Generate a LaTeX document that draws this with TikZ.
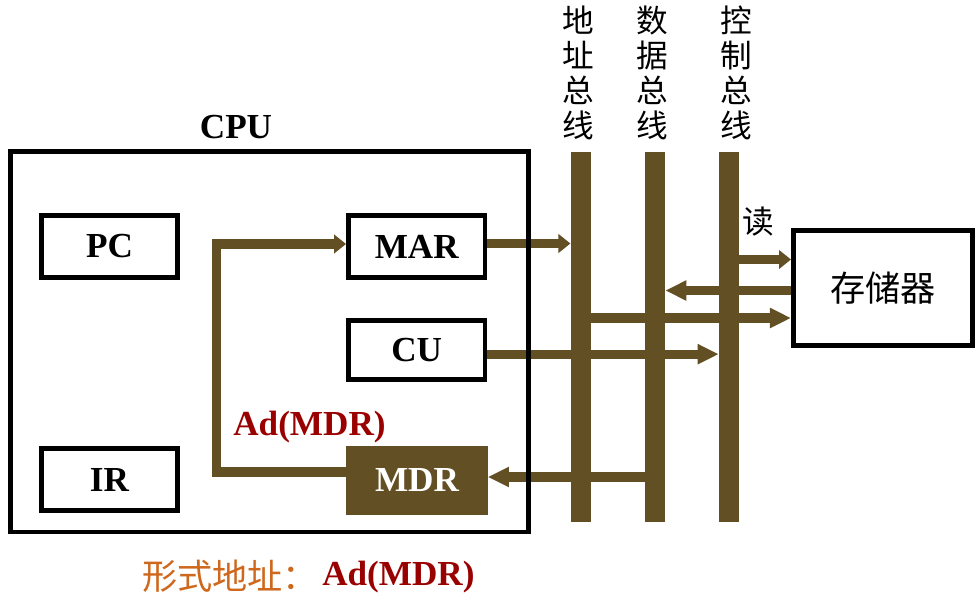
\documentclass[tikz,border=0pt]{standalone}
\usepackage{fontspec}
\setmainfont{Liberation Serif}
\newfontfamily\cjk{Noto Sans CJK SC}
\usetikzlibrary{arrows.meta,backgrounds}

\definecolor{busbrown}{RGB}{99,79,36}
\definecolor{addrred}{RGB}{153,0,0}
\definecolor{hintorange}{RGB}{206,104,28}

\tikzset{
  reg/.style={draw, line width=3.5pt, inner sep=0pt, minimum width=3.41cm,
    minimum height=1.55cm, font=\fontsize{25}{30}\selectfont\bfseries},
  bus/.style={fill=busbrown, inner sep=0pt, minimum width=0.5cm, minimum height=9.25cm},
  buslabel/.style={align=center, inner sep=0pt, font=\cjk\fontsize{22.5}{24.9}\selectfont},
  flow/.style={draw=busbrown, line width=6.6pt, line join=miter,
    -{Triangle[length=15pt,width=13.5pt]}},
  shortflow/.style={flow, -{Triangle[length=8.5pt,width=13pt]}},
  latin/.style={inner sep=0pt, font=\fontsize{25}{30}\selectfont\bfseries}
}

\begin{document}
\begin{tikzpicture}[x=0.025cm, y=-0.025cm]
  \useasboundingbox (0,0) rectangle (980,599);

  % CPU and its registers
  \node[draw, line width=3.5pt, minimum width=12.95cm, minimum height=9.51cm] (cpu) at (269.5,341.75) {};
  \node[latin] (cputitle) at (236,127) {CPU};
  \node[reg] (pc) at (109.5,246.5) {PC};
  \node[reg] (mar) at (416.75,246.5) {MAR};
  \node[reg, minimum height=1.47cm] (cu) at (416.75,349.75) {CU};
  \node[reg, minimum height=1.54cm] (ir) at (109.5,479.75) {IR};
  \node[latin, fill=busbrown, text=white, minimum width=3.53cm, minimum height=1.72cm] (mdr) at (417,480.5) {MDR};
  \node[latin, text=addrred] (adlabel) at (309.5,427) {Ad(MDR)};

  % buses
  \node[bus] (abus) at (580.7,337) {};
  \node[bus] (dbus) at (655,337) {};
  \node[bus] (cbus) at (729,337) {};
  \node[buslabel] (alabel) at (578,73) {地\\址\\总\\线};
  \node[buslabel] (dlabel) at (652,73) {数\\据\\总\\线};
  \node[buslabel] (clabel) at (736,73) {控\\制\\总\\线};

  % memory
  \node[draw, line width=3.5pt, minimum width=4.475cm, minimum height=2.875cm,
    font=\cjk\fontsize{25}{30}\selectfont] (mem) at (883,288) {存储器};
  \node[inner sep=0pt, font=\cjk\fontsize{22.5}{26}\selectfont] (rd) at (758,222) {读};

  % bottom note
  \node[anchor=west, inner sep=0pt, text=hintorange, font=\cjk\fontsize{25}{30}\selectfont] (note) at (142,576) {形式地址：};
  \node[latin, anchor=west, text=addrred] (noteaddr) at (322,577) {Ad(MDR)};

  \begin{scope}[on background layer]
    \draw[shortflow] ([yshift=0.075cm]mar.east) -- ([yshift=0.075cm]mar.east -| abus.west);
    \draw[flow] ([yshift=-0.11cm]cu.east) -- ([yshift=-0.11cm]cu.east -| cbus.west);
    \draw[flow] (dbus.west |- 0,477) -- (mdr.east |- 0,477);
    \draw[shortflow] (mdr.west |- 0,472) -- (216.5,472) -- (216.5,244) -- (mar.west |- 0,244);
    \draw[shortflow] (cbus.east |- 0,259.5) -- (mem.west |- 0,259.5);
    \draw[flow] (mem.west |- 0,290.5) -- (dbus.east |- 0,290.5);
    \draw[flow] (abus.east |- 0,318) -- (mem.west |- 0,318);
  \end{scope}

\end{tikzpicture}
\end{document}
